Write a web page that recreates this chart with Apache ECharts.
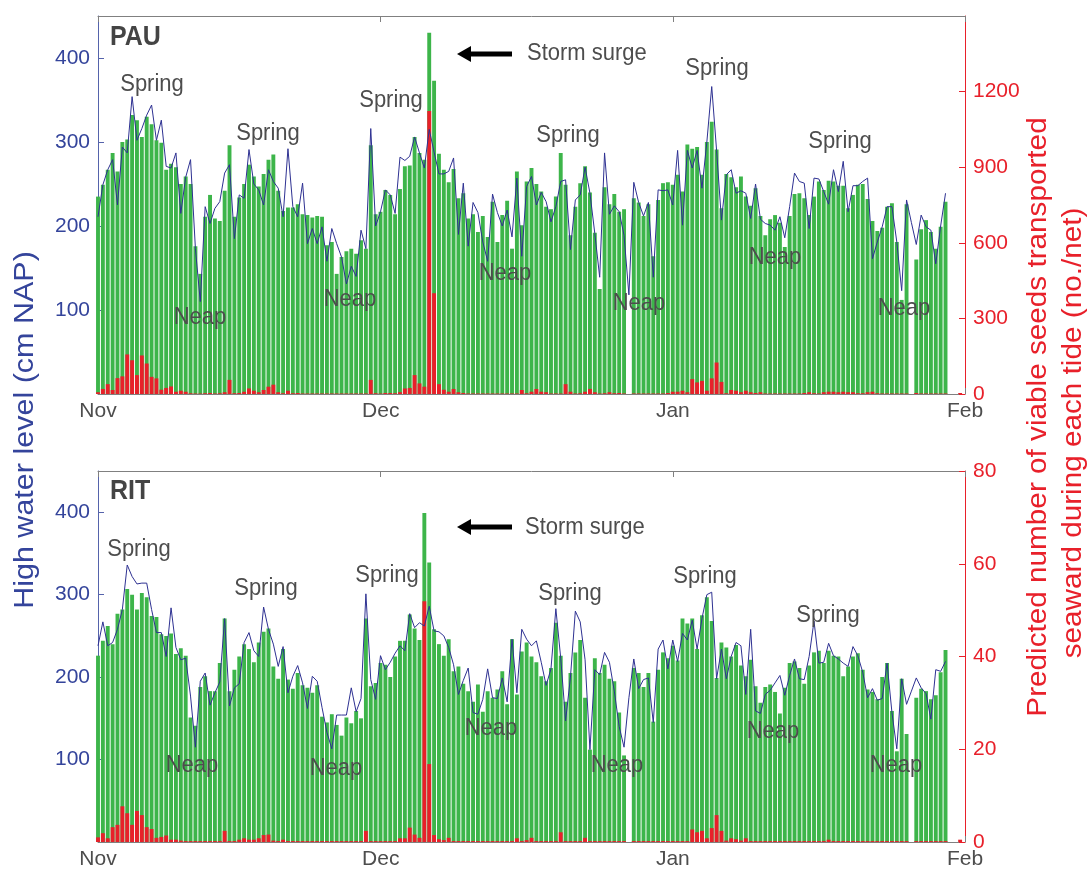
<!DOCTYPE html>
<html>
<head>
<meta charset="utf-8">
<title>PAU / RIT high water and seed transport</title>
<script src="https://cdn.jsdelivr.net/npm/echarts@6/dist/echarts.min.js"></script>
<style>
  html, body { margin: 0; padding: 0; background: #fff; }
  #main { width: 1090px; height: 870px; }
</style>
</head>
<body>
<div id="main"></div>
<script>
// month ticks, in days after 1 Nov
var monthDays = [0, 30, 61, 92];
var monthNames = ['Nov', 'Dec', 'Jan', 'Feb'];
var levelTicks = [100, 200, 300, 400];
var pauSeedTicks = [0, 300, 600, 900, 1200];

// PAU: bars and line (cm NAP), seeds (no./net), one value per tide
var pauBars = [
  235,249,267,287,265,300,303,332,326,306, 330,321,302,299,267,274,270,250,259,250,
  176,143,211,237,209,206,242,296,211,234, 250,273,259,247,262,279,285,242,218,222,
  222,226,214,213,210,212,211,177,181,143, 163,170,173,167,183,173,296,214,217,243,
  237,214,244,271,272,306,287,279,430,373, 286,267,252,268,233,239,209,214,193,212,
  187,229,181,213,230,173,265,201,253,269, 250,241,223,220,235,287,249,189,223,251,
  271,240,192,125,246,226,238,217,220,null, 233,228,212,226,164,231,251,252,249,261,
  241,297,292,294,261,300,324,291,221,262, 258,246,259,235,224,245,212,189,208,213,
  204,175,212,238,239,233,213,235,253,243, 254,253,248,248,221,237,249,250,232,206,
  194,198,223,227,181,112,226,null,160,196, 207,193,173,199,229
];
var pauLine = [
  211,249,267,279,225,294,287,354,302,316, 332,344,302,326,271,269,287,215,258,279,
  173,110,223,203,221,229,263,273,185,237, 233,291,250,243,225,267,253,245,211,292,
  223,211,251,179,197,179,199,158,197,179, 163,131,152,140,195,173,316,200,217,243,
  237,215,282,278,283,306,287,269,315,288, 262,262,265,281,190,251,176,228,216,181,
  158,238,216,200,219,187,257,164,247,259, 225,240,229,205,223,253,255,172,231,237,
  270,239,191,139,287,214,224,217,189,118, 252,228,212,228,139,243,242,243,225,290,
  201,290,269,290,245,300,366,290,207,261, 267,239,242,239,209,250,208,203,201,195,
  211,186,223,263,253,251,197,257,256,241, 226,267,241,277,217,248,248,253,257,161,
  181,199,223,223,181,123,231,204,178,213, 199,195,155,200,239
];
var pauSeeds = [
  7,20,39,16,63,70,157,134,75,153, 121,68,62,17,24,30,9,13,9,3,
  2,2,3,4,2,3,7,56,3,4, 9,22,13,7,16,29,37,7,3,13,
  3,4,2,2,2,2,2,2,2,2, 2,2,2,2,2,2,56,3,2,4,
  4,3,7,22,24,75,42,29,1123,400, 39,17,9,20,7,4,2,2,2,2,
  2,2,2,2,2,2,2,16,3,9, 20,9,7,2,2,2,39,9,2,3,
  9,20,7,2,3,7,3,4,2,null, 2,2,2,2,2,2,2,4,9,9,
  13,7,59,46,52,13,62,125,48,3, 16,13,7,13,7,4,7,2,2,2,
  2,2,2,2,2,4,7,3,2,7, 9,9,7,9,7,7,3,3,7,9,
  3,2,2,2,2,2,2,null,4,2, 2,2,2,2,2,null,null,4
];

// RIT
var ritBars = [
  226,244,262,240,277,282,307,300,282,302, 297,274,273,252,250,253,228,235,226,151,
  141,188,201,183,183,217,271,183,209,225, 240,234,218,242,255,259,213,198,234,197,
  186,205,190,187,181,190,152,145,155,142, 129,151,144,159,150,271,189,193,217,215,
  200,225,244,244,276,259,245,399,339,258, 240,226,246,207,213,192,183,170,191,158,
  183,175,185,207,167,246,179,231,242,225, 218,201,195,211,266,226,170,205,230,245,
  175,112,223,205,215,198,195,157,105,null, 211,205,188,205,146,209,230,223,238,220,
  271,265,271,234,275,297,268,199,242,236, 225,239,214,201,221,189,169,188,191,182,
  156,187,217,219,211,192,214,230,232,217, 232,226,225,201,213,225,229,209,185,182,
  173,200,217,159,110,198,131,null,175,186, 183,173,178,206,233
];
var ritLine = [
  238,267,238,242,258,282,336,322,313,314, 314,282,254,254,225,284,236,221,223,177,
  115,195,205,166,181,194,271,165,187,192, 242,254,232,225,285,258,240,213,237,181,
  201,214,193,162,201,195,163,133,113,154, 154,154,187,158,174,301,197,173,226,209,
  218,229,238,232,277,260,266,262,286,256, 255,250,236,215,179,196,211,157,155,173,
  210,175,174,199,170,246,181,258,246,238, 244,218,190,210,283,223,147,200,280,267,
  221,112,209,203,230,218,183,140,115,175, 222,186,197,199,145,234,245,210,245,219,
  253,245,269,234,271,300,303,198,234,198, 225,242,238,179,258,159,156,179,184,193,
  202,178,202,222,198,197,225,268,217,218, 241,226,222,217,213,237,226,206,175,186,
  172,174,217,157,113,198,167,183,199,187, 180,149,209,207,219
];
var ritSeeds = [
  1.0,1.9,0.8,3.2,3.7,7.7,6.2,3.7,6.7,5.8, 3.2,2.8,0.9,1.1,1.4,0.5,0.5,0.3,0.2,0.2,
  0.2,0.2,0.2,0.2,0.2,0.2,2.4,0.2,0.2,0.5, 0.8,0.5,0.5,0.8,1.5,1.6,0.3,0.2,0.5,0.2,
  0.2,0.2,0.2,0.2,0.2,0.2,0.2,0.2,0.2,0.2, 0.2,0.2,0.2,0.2,0.2,2.4,0.2,0.2,0.2,0.2,
  0.2,0.2,0.8,0.8,3.1,1.6,0.9,51.9,16.8,1.5, 0.6,0.4,0.9,0.2,0.2,0.2,0.2,0.2,0.2,0.2,
  0.2,0.2,0.2,0.2,0.2,0.2,0.8,0.2,0.4,0.9, 0.2,0.2,0.2,0.2,0.2,2.1,0.2,0.2,0.2,0.2,
  0.9,0.2,0.2,0.2,0.2,0.2,0.2,0.2,0.2,null, 0.2,0.2,0.2,0.2,0.2,0.2,0.2,0.2,0.2,0.2,
  0.2,0.2,2.7,2.1,2.4,0.8,3.0,5.8,2.4,0.3, 0.8,0.6,0.3,0.8,0.2,0.2,0.2,0.2,0.2,0.2,
  0.2,0.2,0.2,0.2,0.2,0.2,0.2,0.2,0.2,0.2, 0.5,0.2,0.2,0.2,0.2,0.2,0.2,0.2,0.2,0.2,
  0.2,0.2,0.2,0.2,0.2,0.2,0.2,null,0.2,0.2, 0.2,0.2,0.2,0.2,0.2,null,null,0.5
];

// tide numbers from 1 Nov to 1 Feb (12.42 h apart)
var tides = [];
for (var i = 0; i < 179; i++) tides.push(String(i + 1));

var FONT = '"Liberation Sans", Arial, sans-serif';
var BLUE = '#34449b';
var RED = '#e8202a';
var GREEN = '#3db54a';
var GREY = '#4d4d4d';

function monthLabel(v) {
  var k = monthDays.indexOf(Math.round(v));
  return k >= 0 ? monthNames[k] : '';
}

function xAxes(g) {
  return [
    { type: 'category', gridIndex: g, data: tides, boundaryGap: false,
      axisLine: { onZero: false, lineStyle: { color: '#808080' } },
      axisTick: { show: false }, axisLabel: { show: false } },
    { type: 'value', gridIndex: g, min: 0, max: 92, position: 'bottom',
      axisLine: { show: false, onZero: false }, splitLine: { show: false },
      axisTick: { inside: true, length: 6, customValues: monthDays, lineStyle: { color: '#808080' } },
      axisLabel: { customValues: monthDays, formatter: monthLabel, margin: 7,
        color: GREY, fontSize: 21, fontFamily: FONT } },
    { type: 'value', gridIndex: g, min: 0, max: 92, position: 'top',
      axisLine: { show: true, onZero: false, lineStyle: { color: '#808080' } }, splitLine: { show: false },
      axisTick: { inside: true, length: 6, customValues: monthDays, lineStyle: { color: '#808080' } },
      axisLabel: { show: false } }
  ];
}

function leftAxis(g) {
  return { type: 'value', gridIndex: g, min: 0, max: 450, position: 'left',
    splitLine: { show: false },
    axisLine: { show: true, onZero: false, lineStyle: { color: '#5563ab' } },
    axisTick: { show: true, inside: true, length: 6, customValues: levelTicks, lineStyle: { color: '#5563ab' } },
    axisLabel: { customValues: levelTicks, margin: 8, color: BLUE, fontSize: 21, fontFamily: FONT } };
}

function rightAxis(g, max, ticks) {
  var a = { type: 'value', gridIndex: g, min: 0, max: max, position: 'right',
    splitLine: { show: false },
    axisLine: { show: true, onZero: false, lineStyle: { color: RED } },
    axisTick: { show: true, inside: true, length: 6, lineStyle: { color: RED } },
    axisLabel: { margin: 8, color: RED, fontSize: 21, fontFamily: FONT,
      formatter: function (v) { return String(v); } } };
  if (ticks) {
    a.axisTick.customValues = ticks;
    a.axisLabel.customValues = ticks;
  } else {
    a.interval = 20;
  }
  return a;
}

function panelSeries(xi, yl, yr, bars, seeds, line) {
  return [
    { type: 'bar', xAxisIndex: xi, yAxisIndex: yl, data: bars, barWidth: 3.9,
      itemStyle: { color: GREEN }, z: 2 },
    { type: 'bar', xAxisIndex: xi, yAxisIndex: yr, data: seeds, barWidth: 3.9, barGap: '-100%',
      itemStyle: { color: RED }, z: 3 },
    { type: 'line', xAxisIndex: xi, yAxisIndex: yl, data: line, symbol: 'none',
      lineStyle: { color: '#2e3192', width: 1 }, z: 4 }
  ];
}

function note(text, x, y, opts) {
  opts = opts || {};
  return { type: 'text', x: x, y: y, z: 10, scaleY: opts.scaleY || 1.07,
    style: { text: text, fill: opts.fill || GREY,
      font: (opts.weight || 'normal') + ' ' + (opts.size || 22) + 'px ' + FONT,
      textAlign: opts.align || 'center', textVerticalAlign: 'middle' } };
}

function arrow(y) {
  return [
    { type: 'rect', z: 10, shape: { x: 468, y: y - 2.5, width: 44, height: 5 }, style: { fill: '#000' } },
    { type: 'polygon', z: 10, shape: { points: [[457, y], [471, y - 8], [471, y + 8]] }, style: { fill: '#000' } }
  ];
}

var springNeap = [
  ['Spring', 152, 85], ['Spring', 268, 134], ['Spring', 391, 101], ['Spring', 568, 136],
  ['Spring', 717, 69], ['Spring', 840, 142],
  ['Neap', 200, 318], ['Neap', 350, 300], ['Neap', 505, 274], ['Neap', 639, 304],
  ['Neap', 775, 258], ['Neap', 904, 309],
  ['Spring', 139, 550], ['Spring', 266, 589], ['Spring', 387, 576], ['Spring', 570, 594],
  ['Spring', 705, 577], ['Spring', 828, 616],
  ['Neap', 192, 766], ['Neap', 336, 769], ['Neap', 491, 729], ['Neap', 617, 766],
  ['Neap', 773, 732], ['Neap', 896, 766]
];

var graphics = springNeap.map(function (s) { return note(s[0], s[1], s[2]); });
graphics.push(note('PAU', 110, 38, { weight: 'bold', size: 25, align: 'left', fill: '#444' }));
graphics.push(note('RIT', 110, 492, { weight: 'bold', size: 25, align: 'left', fill: '#444' }));
graphics.push(note('Storm surge', 527, 54, { align: 'left' }));
graphics.push(note('Storm surge', 525, 528, { align: 'left' }));
graphics = graphics.concat(arrow(54), arrow(527));
graphics.push({ type: 'text', x: 26, y: 430, rotation: Math.PI / 2, scaleX: 1.13, z: 10,
  style: { text: 'High water level (cm NAP)', fill: BLUE, font: '27px ' + FONT,
    textAlign: 'center', textVerticalAlign: 'middle' } });
graphics.push({ type: 'text', x: 1039, y: 417, rotation: Math.PI / 2, scaleX: 1.1, z: 10,
  style: { text: 'Predicted number of viable seeds transported', fill: RED, font: '27px ' + FONT,
    textAlign: 'center', textVerticalAlign: 'middle' } });
graphics.push({ type: 'text', x: 1074, y: 433, rotation: Math.PI / 2, scaleX: 1.1, z: 10,
  style: { text: 'seaward during each tide (no./net)', fill: RED, font: '27px ' + FONT,
    textAlign: 'center', textVerticalAlign: 'middle' } });

var chart = echarts.init(document.getElementById('main'), null, { renderer: 'canvas' });
chart.setOption({
  animation: false,
  backgroundColor: '#fff',
  textStyle: { fontFamily: FONT },
  grid: [
    { left: 98, top: 16, width: 867, height: 378 },
    { left: 98, top: 471, width: 867, height: 372 }
  ],
  xAxis: xAxes(0).concat(xAxes(1)),
  yAxis: [leftAxis(0), rightAxis(0, 1500, pauSeedTicks), leftAxis(1), rightAxis(1, 80, null)],
  series: panelSeries(0, 0, 1, pauBars, pauSeeds, pauLine)
    .concat(panelSeries(3, 2, 3, ritBars, ritSeeds, ritLine)),
  graphic: graphics
});
</script>
</body>
</html>
